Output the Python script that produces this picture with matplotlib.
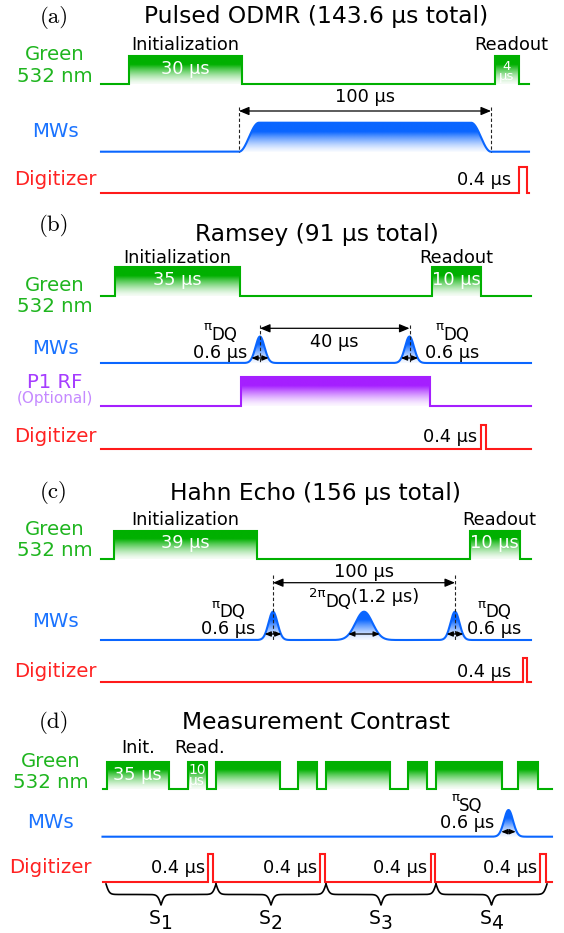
import numpy as np
import matplotlib
matplotlib.use("Agg")
import matplotlib.pyplot as plt
from matplotlib.colors import to_rgb
from matplotlib.patches import Polygon

plt.rcParams['font.family'] = ['DejaVu Sans']

FIG_W, FIG_H = 564, 933

GREEN = '#00b000'
BLUE = '#0a66ff'
RED = '#ff1a1a'
PURPLE = '#a51fff'
GREEN_TXT = '#1fb51f'
BLUE_TXT = '#1a73ff'
RED_TXT = '#ff2222'
PURPLE_TXT = '#a63dff'
OPTIONAL_TXT = '#c58aff'

TITLE_SIZE = 16.8
LANE_SIZE = 14.2
NOTE_SIZE = 12.8

# ---------------- sequence data (schematic time, sequence starts at 0) ----------------
# (a) pulsed ODMR
odmr_end = 428
odmr_green = [(28, 141), (394, 418)]
odmr_mw_window = (138, 390)
odmr_mw_ramp = 20
odmr_dig = [(418, 426)]

# (b) Ramsey
ramsey_end = 430
ramsey_green = [(14, 139), (331, 380)]
ramsey_mw_centers = [159, 308.5]
ramsey_mw_sigmas = [4.5, 4.5]
ramsey_rf = [(140, 329)]
ramsey_dig = [(380, 385)]

# (c) Hahn echo
echo_end = 430
echo_green = [(13, 156), (368.5, 419)]
echo_mw_centers = [172, 263, 354]
echo_mw_sigmas = [4.5, 8.5, 4.5]
echo_dig = [(421.5, 426)]

# (d) measurement contrast
contrast_end = 449.5
contrast_green = [(4, 66.5), (85, 104.5), (113, 177), (195.5, 214.5),
                  (223.5, 287), (305.5, 324.5), (333.5, 399.5), (415.5, 435.5)]
contrast_mw_centers = [406]
contrast_mw_sigmas = [4.5]
contrast_dig = [(105.5, 110.5), (217.5, 222.5), (328, 332.5), (437.5, 443)]
contrast_segments = [(3.5, 113.5), (113.5, 223.5), (223.5, 333.5), (333.5, 444.5)]
contrast_segment_names = ['1', '2', '3', '4']

titles = ['Pulsed ODMR (143.6 µs total)', 'Ramsey (91 µs total)',
          'Hahn Echo (156 µs total)', 'Measurement Contrast']
tags = ['(a)', '(b)', '(c)', '(d)']

# ---------------- figure & helpers ----------------
fig = plt.figure(figsize=(FIG_W / 100, FIG_H / 100), dpi=100)
renderer = fig.canvas.get_renderer()


def make_panel(top, bottom, x0):
    ax = fig.add_axes([0, 1 - bottom / FIG_H, 1, (bottom - top) / FIG_H])
    ax.set_xlim(-x0, FIG_W - x0)
    ax.set_ylim(bottom - top, 0)
    ax.set_autoscale_on(False)
    ax.axis('off')
    return ax


def fade(color, n=200, solid=0.3, floor=0.04):
    rgb = to_rgb(color)
    f = np.linspace(0, 1, n)
    a = np.clip((1 - f) / (1 - solid), 0, 1) ** 1.4
    a = floor + (1 - floor) * a
    img = np.ones((n, 2, 4))
    img[..., :3] = rgb
    img[..., 3] = a[:, None]
    return img


def square_lane(ax, base, height, end, pulses, color, fill=True):
    xs, ys = [0], [base]
    for on, off in pulses:
        xs += [on, on, off, off]
        ys += [base, base - height, base - height, base]
    xs.append(end)
    ys.append(base)
    if fill:
        for on, off in pulses:
            ax.imshow(fade(color), extent=(on, off, base, base - height), origin='upper',
                      aspect='auto', interpolation='bilinear', zorder=1)
    ax.plot(xs, ys, color=color, lw=1.5, solid_joinstyle='miter', zorder=3)


def smooth_lane(ax, base, height, end, env, color):
    x = np.linspace(0, end, 3000)
    y = base - height * env(x)
    verts = np.column_stack([np.concatenate([x, x[::-1]]),
                             np.concatenate([y, np.full(x.size, base)])])
    clip = Polygon(verts, closed=True, fc='none', ec='none')
    ax.add_patch(clip)
    im = ax.imshow(fade(color), extent=(0, end, base, base - height), origin='upper',
                   aspect='auto', interpolation='bilinear', zorder=1)
    im.set_clip_path(clip)
    ax.plot(x, y, color=color, lw=1.5, zorder=3)


def gaussians(centers, sigmas):
    def env(x):
        out = np.zeros_like(x)
        for c, s in zip(centers, sigmas):
            out += np.exp(-0.5 * ((x - c) / s) ** 2)
        return out
    return env


def flat_top(window, ramp):
    start, stop = window
    def env(x):
        s = np.minimum(np.clip((x - start) / ramp, 0, 1), np.clip((stop - x) / ramp, 0, 1))
        return 0.5 - 0.5 * np.cos(np.pi * s)
    return env


def span_arrow(ax, x1, x2, y, scale=10):
    ax.annotate('', xy=(x2, y), xytext=(x1, y),
                arrowprops=dict(arrowstyle='<|-|>,head_length=0.6,head_width=0.25',
                                color='k', lw=0.9, shrinkA=0, shrinkB=0,
                                mutation_scale=scale), zorder=4)


def marker(ax, x, y1, y2):
    ax.plot([x, x], [y1, y2], color='#222222', lw=0.8, ls=(0, (3, 2)), zorder=4)


def txt(ax, x, y, s, size=NOTE_SIZE, color='k', ha='center', **kw):
    return ax.text(x, y, s, fontsize=size, color=color, ha=ha, va='baseline', **kw)


def stacked(ax, x, yc, s, size=9.5):
    # two-line duration written inside a short pulse
    ax.text(x, yc, s, fontsize=size, color='white', ha='center', va='center',
            linespacing=0.78)


def group(ax, xc, y, parts, color='k'):
    arts = [ax.text(0, y + dy, s, fontsize=fs, color=color, ha='left', va='baseline')
            for s, fs, dy in parts]
    widths = [a.get_window_extent(renderer).width for a in arts]
    x = xc - sum(widths) / 2
    for a, w in zip(arts, widths):
        a.set_x(x)
        x += w


def pi_label(ax, xc, y_sub, y_dur, sub='DQ', dur='0.6 µs'):
    group(ax, xc, y_sub, [('π', 9.5, -9.5), (sub, 12, 0)])
    txt(ax, xc, y_dur, dur)


def lane_labels(ax, x, rows):
    for s, y, size, color in rows:
        txt(ax, x, y, s, size=size, color=color)


def header(ax, x_tag, y_tag, x_title, y_title, tag, title):
    ax.text(x_tag, y_tag, tag, fontsize=16.5, family='cmr10', ha='center', va='baseline')
    txt(ax, x_title, y_title, title, size=TITLE_SIZE)


def brace(ax, x1, x2, y_top, depth, curl=0.6):
    n = 301
    L = (x2 - x1) / 2
    u = np.linspace(0, L, n)
    half = 1 / (1 + np.exp(-curl * u)) + 1 / (1 + np.exp(-curl * (u - L)))
    yb = np.concatenate([half, half[-2::-1]])
    xb = np.linspace(x1, x2, yb.size)
    ax.plot(xb, y_top + (yb - 0.5) * depth, color='k', lw=1.2, zorder=3)


# ---------------- (a) Pulsed ODMR ----------------
ax = make_panel(0, 200, 101)
header(ax, -47, 23, 215, 23, tags[0], titles[0])
lane_labels(ax, -46, [('Green', 60, LANE_SIZE, GREEN_TXT), ('532 nm', 82, LANE_SIZE, GREEN_TXT),
                      ('MWs', 137, LANE_SIZE, BLUE_TXT), ('Digitizer', 185, LANE_SIZE, RED_TXT)])
square_lane(ax, 84, 28, odmr_end, odmr_green, GREEN)
smooth_lane(ax, 151.7, 29, odmr_end, flat_top(odmr_mw_window, odmr_mw_ramp), BLUE)
square_lane(ax, 192.7, 25.5, odmr_end, odmr_dig, RED, fill=False)
init_c = sum(odmr_green[0]) / 2
read_c = sum(odmr_green[1]) / 2
txt(ax, init_c, 50, 'Initialization')
txt(ax, read_c + 4, 50, 'Readout')
txt(ax, init_c, 74, '30 µs', color='white')
stacked(ax, read_c, 71.5, '4\nµs')
for xm in odmr_mw_window:
    marker(ax, xm, 106.5, 152)
span_arrow(ax, odmr_mw_window[0], odmr_mw_window[1], 111)
txt(ax, sum(odmr_mw_window) / 2, 102, '100 µs')
txt(ax, odmr_dig[0][0] - 8, 185, '0.4 µs', ha='right')

# ---------------- (b) Ramsey ----------------
ax = make_panel(200, 460, 101)
header(ax, -47, 31, 216, 41, tags[1], titles[1])
lane_labels(ax, -46, [('Green', 91, LANE_SIZE, GREEN_TXT), ('532 nm', 112, LANE_SIZE, GREEN_TXT),
                      ('MWs', 154, LANE_SIZE, BLUE_TXT), ('P1 RF', 188, LANE_SIZE, PURPLE_TXT),
                      ('(Optional)', 203, 11, OPTIONAL_TXT),
                      ('Digitizer', 242, LANE_SIZE, RED_TXT)])
square_lane(ax, 96, 29, ramsey_end, ramsey_green, GREEN)
smooth_lane(ax, 163, 26.5, ramsey_end, gaussians(ramsey_mw_centers, ramsey_mw_sigmas), BLUE)
square_lane(ax, 205.7, 28.5, ramsey_end, ramsey_rf, PURPLE)
square_lane(ax, 249.3, 24.5, ramsey_end, ramsey_dig, RED, fill=False)
init_c = sum(ramsey_green[0]) / 2
read_c = sum(ramsey_green[1]) / 2
txt(ax, init_c, 63, 'Initialization')
txt(ax, read_c, 63, 'Readout')
txt(ax, init_c, 85, '35 µs', color='white')
txt(ax, read_c, 85, '10 µs', color='white')
for c in ramsey_mw_centers:
    marker(ax, c, 125, 163)
span_arrow(ax, ramsey_mw_centers[0], ramsey_mw_centers[1], 128.3)
txt(ax, sum(ramsey_mw_centers) / 2, 147, '40 µs')
pi_label(ax, ramsey_mw_centers[0] - 39.5, 140, 158)
pi_label(ax, ramsey_mw_centers[1] + 43, 140, 158)
for c, s in zip(ramsey_mw_centers, ramsey_mw_sigmas):
    span_arrow(ax, c - 1.9 * s, c + 1.9 * s, 158, scale=6)
txt(ax, ramsey_dig[0][0] - 4, 242, '0.4 µs', ha='right')

# ---------------- (c) Hahn echo ----------------
ax = make_panel(460, 690, 101)
header(ax, -47, 38, 214, 40, tags[2], titles[2])
lane_labels(ax, -46, [('Green', 75, LANE_SIZE, GREEN_TXT), ('532 nm', 96, LANE_SIZE, GREEN_TXT),
                      ('MWs', 167, LANE_SIZE, BLUE_TXT), ('Digitizer', 217, LANE_SIZE, RED_TXT)])
square_lane(ax, 99.3, 28.6, echo_end, echo_green, GREEN)
smooth_lane(ax, 180, 28.3, echo_end, gaussians(echo_mw_centers, echo_mw_sigmas), BLUE)
square_lane(ax, 221.7, 23.4, echo_end, echo_dig, RED, fill=False)
init_c = sum(echo_green[0]) / 2
read_c = sum(echo_green[1]) / 2
txt(ax, init_c, 65, 'Initialization')
txt(ax, read_c + 4, 65, 'Readout')
txt(ax, init_c, 88, '39 µs', color='white')
txt(ax, read_c, 88, '10 µs', color='white')
for c in (echo_mw_centers[0], echo_mw_centers[-1]):
    marker(ax, c, 115, 180)
span_arrow(ax, echo_mw_centers[0], echo_mw_centers[-1], 122.7)
txt(ax, echo_mw_centers[1], 117, '100 µs')
group(ax, echo_mw_centers[1], 147, [('2π', 9.5, -10), ('DQ', 12, 0), ('(1.2 µs)', NOTE_SIZE, -5)])
pi_label(ax, echo_mw_centers[0] - 45, 157, 174)
pi_label(ax, echo_mw_centers[-1] + 39, 157, 174)
for c, s in zip(echo_mw_centers, echo_mw_sigmas):
    span_arrow(ax, c - 1.85 * s, c + 1.85 * s, 174, scale=6)
txt(ax, echo_dig[0][0] - 11, 217, '0.4 µs', ha='right')

# ---------------- (d) Measurement contrast ----------------
ax = make_panel(690, 933, 102.5)
header(ax, -48.5, 38, 213.5, 39, tags[3], titles[3])
lane_labels(ax, -52, [('Green', 77, LANE_SIZE, GREEN_TXT), ('532 nm', 98, LANE_SIZE, GREEN_TXT),
                      ('MWs', 138, LANE_SIZE, BLUE_TXT), ('Digitizer', 183, LANE_SIZE, RED_TXT)])
square_lane(ax, 99.3, 27.6, contrast_end, contrast_green, GREEN)
smooth_lane(ax, 146.7, 26.7, contrast_end, gaussians(contrast_mw_centers, contrast_mw_sigmas), BLUE)
square_lane(ax, 191.7, 27.7, contrast_end, contrast_dig, RED, fill=False)
init_c = sum(contrast_green[0]) / 2
read_c = sum(contrast_green[1]) / 2
txt(ax, init_c, 63, 'Init.')
txt(ax, read_c + 2, 63, 'Read.')
txt(ax, init_c, 90, '35 µs', color='white')
stacked(ax, read_c, 85.5, '10\nµs', size=10)
pi_label(ax, contrast_mw_centers[0] - 41.5, 120.7, 138, sub='SQ')
for c, s in zip(contrast_mw_centers, contrast_mw_sigmas):
    span_arrow(ax, c - 1.6 * s, c + 1.6 * s, 141.7, scale=6)
for on, off in contrast_dig:
    txt(ax, on - 3, 183, '0.4 µs', ha='right')
for (x1, x2), name in zip(contrast_segments, contrast_segment_names):
    brace(ax, x1, x2, 194, 21)
    group(ax, (x1 + x2) / 2, 234, [('S', 13.5, 0), (name, 13.5, 5)])

fig.savefig('out.png', dpi=100)
